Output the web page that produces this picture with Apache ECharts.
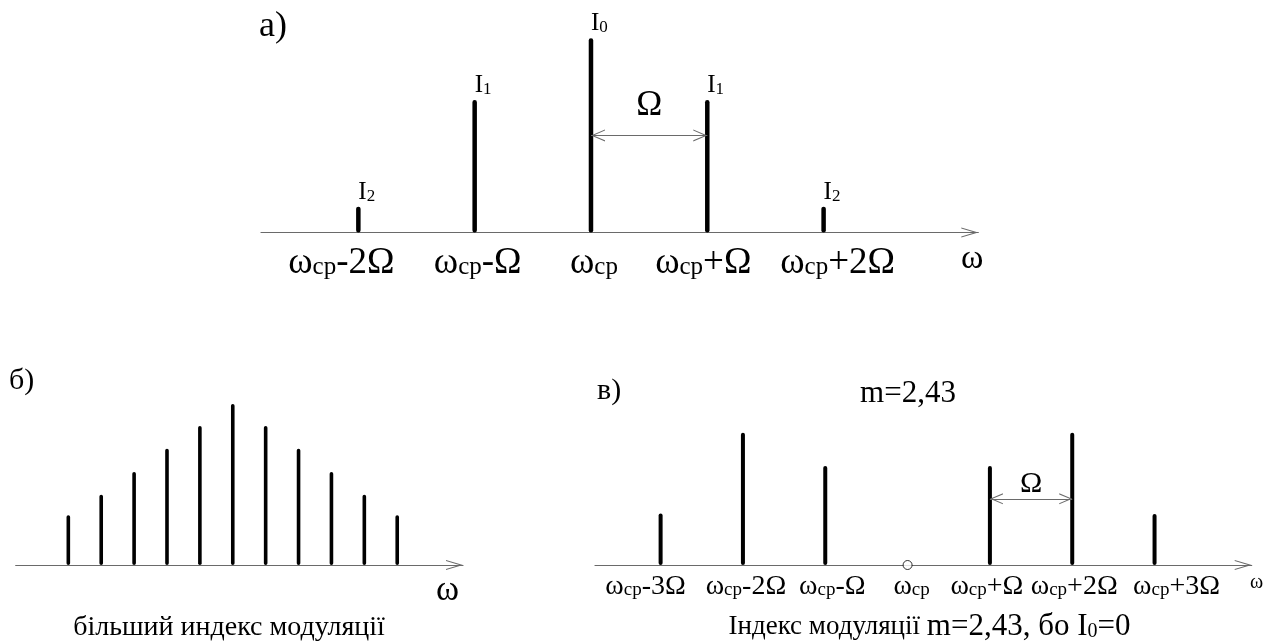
<!DOCTYPE html>
<html>
<head>
<meta charset="utf-8">
<script src="https://cdn.jsdelivr.net/npm/echarts@6/dist/echarts.min.js"></script>
<style>
html,body{margin:0;padding:0;background:#fff;}
#c{width:1274px;height:641px;}
</style>
</head>
<body>
<div id="c"></div>
<script>
// ---- data ----
// a) small modulation index
const harmonicsA = [-2, -1, 0, 1, 2];
const ampsA = [0.133, 0.682, 1, 0.682, 0.133];
const ampLabelsA = ['2', '1', '0', '1', '2'];          // I with subscript
const tickLabelsA = ['ωcp-2Ω', 'ωcp-Ω', 'ωcp', 'ωcp+Ω', 'ωcp+2Ω'];
const omegaSpanA = [0, 1, 0.5];                        // from, to, level

// б) larger modulation index
const harmonicsB = [-5, -4, -3, -2, -1, 0, 1, 2, 3, 4, 5];
const ampsB = [0.309, 0.437, 0.578, 0.722, 0.863, 1, 0.863, 0.722, 0.578, 0.437, 0.309];

// в) m = 2.43, carrier vanishes
const harmonicsV = [-3, -2, -1, 0, 1, 2, 3];
const ampsV = [0.39, 1, 0.748, 0, 0.748, 1, 0.385];
const tickLabelsV = ['ωcp-3Ω', 'ωcp-2Ω', 'ωcp-Ω', 'ωcp', 'ωcp+Ω', 'ωcp+2Ω', 'ωcp+3Ω'];
const omegaSpanV = [1, 2, 0.5];

// ---- presentation (text nudges of the hand-placed tick labels, px) ----
const labelNudgeA = [-17, 3, 3, -4, 14];
const labelNudgeV = [-15, 3, 7, 4, -3, 2, 22];

// ---- helpers ----
const FONT = 'Liberation Serif';
const AXIS_GRAY = '#6a6a6a';
function chevron(w, h, t) {
  const s = 10;
  const W = w * s, H = h * s, T = t * s;
  const innerTip = T * H / (W / 2);
  return 'path://M0,' + H + ' L' + W / 2 + ',0 L' + W + ',' + H +
    ' L' + (W - T) + ',' + H + ' L' + W / 2 + ',' + innerTip + ' L' + T + ',' + H + ' Z';
}
function pairs(xs, ys) { return xs.map((x, i) => [x, ys[i]]); }

function xAxisCfg(gridIndex, min, max, arrowSize, labels, positions, nudges, fs, sfs, subPad, margin, nameFs, nameGap, namePad) {
  let axisLabel = { show: false };
  if (labels) {
    const rich = {
      w: { fontFamily: FONT, fontSize: fs, color: '#000' },
      s: { fontFamily: FONT, fontSize: sfs, color: '#000', padding: [subPad, 0, 0, 0] }
    };
    labels.forEach((l, i) => {
      const n = nudges[i];
      rich['f' + i] = { fontFamily: FONT, fontSize: fs, color: '#000',
        padding: [0, 0, 0, n > 0 ? 2 * n : 0] };
      rich['e' + i] = { fontFamily: FONT, fontSize: fs, color: '#000',
        padding: [0, n < 0 ? -2 * n : 0, 0, 0] };
    });
    axisLabel = {
      show: true,
      hideOverlap: false,
      customValues: positions,
      margin: margin,
      formatter: function (v) {
        const i = positions.indexOf(v);
        if (i < 0) return '';
        const rest = labels[i].slice(3);
        return '{f' + i + '|ω}{s|cp}{e' + i + '|' + rest + '}';
      },
      rich: rich
    };
  }
  return {
    type: 'value', gridIndex: gridIndex, min: min, max: max,
    splitLine: { show: false },
    axisTick: { show: false },
    axisLine: {
      show: true, onZero: false,
      lineStyle: { color: AXIS_GRAY, width: 1.2 },
      symbol: ['none', chevron(arrowSize[0], arrowSize[1], 1.1)],
      symbolSize: arrowSize,
      symbolOffset: [0, -arrowSize[1] / 2]
    },
    axisLabel: axisLabel,
    name: 'ω',
    nameLocation: 'end',
    nameGap: nameGap,
    nameMoveOverlap: false,
    nameTextStyle: {
      fontFamily: FONT, fontSize: nameFs, color: '#000',
      align: 'center', verticalAlign: 'top', padding: [namePad, 0, 0, 0]
    }
  };
}

function omegaMark(span, arrowSize, fs, dist) {
  return {
    silent: true,
    symbol: [chevron(arrowSize[0], arrowSize[1], 1.1), chevron(arrowSize[0], arrowSize[1], 1.1)],
    symbolSize: arrowSize,
    symbolOffset: [[0, arrowSize[1] / 2], [0, arrowSize[1] / 2]],
    lineStyle: { color: AXIS_GRAY, width: 1.2, type: 'solid' },
    label: {
      show: true, position: 'middle', formatter: 'Ω', distance: dist,
      fontFamily: FONT, fontSize: fs, color: '#000'
    },
    data: [[{ coord: [span[0], span[2]] }, { coord: [span[1], span[2]] }]]
  };
}

const chart = echarts.init(document.getElementById('c'), null, { renderer: 'canvas' });

const option = {
  animation: false,
  backgroundColor: '#fff',
  title: [
    { text: 'a)', left: 259, top: 9, padding: 0,
      textStyle: { fontFamily: FONT, fontSize: 36, fontWeight: 'normal', color: '#000' } },
    { text: 'б)', left: 9, top: 366, padding: 0,
      textStyle: { fontFamily: FONT, fontSize: 30, fontWeight: 'normal', color: '#000' } },
    { text: 'в)', left: 597, top: 376, padding: 0,
      textStyle: { fontFamily: FONT, fontSize: 30, fontWeight: 'normal', color: '#000' } },
    { text: 'm=2,43', left: 908, top: 378, padding: 0, textAlign: 'center',
      textStyle: { fontFamily: FONT, fontSize: 31, fontWeight: 'normal', color: '#000' } },
    { text: 'більший индекс модуляції', left: 229, top: 614, padding: 0, textAlign: 'center',
      textStyle: { fontFamily: FONT, fontSize: 28, fontWeight: 'normal', color: '#000' } },
    { text: '{a|Індекс модуляції }{b|m=2,43, бо I}{c|0}{b|=0}', left: 929.5, top: 611, padding: 0, textAlign: 'center',
      textStyle: {
        fontFamily: FONT, fontWeight: 'normal', color: '#000',
        rich: {
          a: { fontFamily: FONT, fontSize: 27, color: '#000' },
          b: { fontFamily: FONT, fontSize: 31, color: '#000' },
          c: { fontFamily: FONT, fontSize: 20, color: '#000', padding: [10, 0, 0, 0] }
        }
      } }
  ],
  grid: [
    { left: 261, right: 295.7, top: 38.3, bottom: 408.5 },
    { left: 15.7, right: 811, top: 404, bottom: 76 },
    { left: 595, right: 22.3, top: 432.7, bottom: 76 }
  ],
  xAxis: [
    xAxisCfg(0, -2.837, 3.33, [10, 17], tickLabelsA, harmonicsA, labelNudgeA, 37, 25, 8, 12, 34, -6, 10),
    xAxisCfg(1, -6.6, 7.0, [10, 17], null, harmonicsB, null, 0, 0, 0, 0, 35, -15.5, 8),
    xAxisCfg(2, -3.797, 4.18, [10, 17], tickLabelsV, harmonicsV, labelNudgeV, 28, 19, 7, 8, 20, 5, 8)
  ],
  yAxis: [
    { type: 'value', gridIndex: 0, min: 0, max: 1, show: false },
    { type: 'value', gridIndex: 1, min: 0, max: 1, show: false },
    { type: 'value', gridIndex: 2, min: 0, max: 1, show: false }
  ],
  series: [
    {
      type: 'bar', xAxisIndex: 0, yAxisIndex: 0, barWidth: 4.5,
      data: pairs(harmonicsA, ampsA),
      itemStyle: { color: '#000', borderRadius: 2.2 },
      label: {
        show: true, position: 'top', distance: 2, align: 'left', offset: [0, 0],
        formatter: function (p) { return '{i|I}{d|' + ampLabelsA[p.dataIndex] + '}'; },
        rich: {
          i: { fontFamily: FONT, fontSize: 25, color: '#000' },
          d: { fontFamily: FONT, fontSize: 17, color: '#000', padding: [8, 0, 0, 0] }
        }
      },
      markLine: omegaMark(omegaSpanA, [12, 14], 35, 12)
    },
    {
      type: 'bar', xAxisIndex: 1, yAxisIndex: 1, barWidth: 3.6,
      data: pairs(harmonicsB, ampsB),
      itemStyle: { color: '#000', borderRadius: 1.8 }
    },
    {
      type: 'bar', xAxisIndex: 2, yAxisIndex: 2, barWidth: 4,
      data: pairs(harmonicsV, ampsV),
      itemStyle: { color: '#000', borderRadius: 2 },
      markLine: omegaMark(omegaSpanV, [11, 13], 30, 0)
    },
    {
      type: 'scatter', xAxisIndex: 2, yAxisIndex: 2,
      data: pairs(harmonicsV, ampsV).filter(p => p[1] === 0),
      symbol: 'circle', symbolSize: 9, z: 5,
      itemStyle: { color: '#fff', borderColor: '#000', borderWidth: 1 }
    }
  ]
};
chart.setOption(option);
</script>
</body>
</html>
